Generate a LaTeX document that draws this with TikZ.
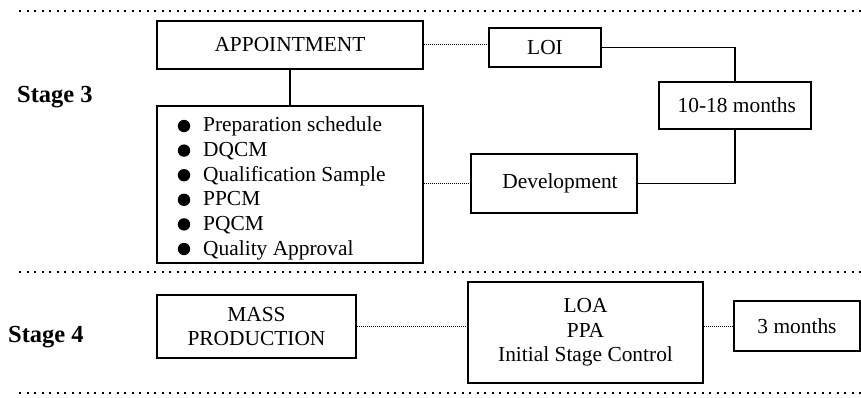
\documentclass[tikz,border=0pt]{standalone}
\usepackage{fontspec}
\setmainfont{Liberation Serif}
\begin{document}
\begin{tikzpicture}[x=1pt,y=-1pt,
  every node/.style={font=\fontsize{21.4}{24.6}\selectfont},
  box/.style={draw,line width=1.8pt,inner sep=0pt,align=center},
  item/.style={anchor=base west,inner sep=0pt},
  link/.style={line width=1.8pt},
  faint/.style={line width=1pt,dash pattern=on 1pt off 1pt},
  divider/.style={line width=2.4pt,dash pattern=on 2.4pt off 5.1pt},
  stagelabel/.style={font=\fontsize{24.5}{28}\selectfont\bfseries,anchor=base west,inner sep=0pt}]
\useasboundingbox (0,0) rectangle (861,398);

% separators between the stages
\coordinate (s1a) at (19,11);  \coordinate (s1b) at (861,11);
\coordinate (s2a) at (19,272); \coordinate (s2b) at (861,272);
\coordinate (s3a) at (19,393); \coordinate (s3b) at (861,393);
\draw[divider] (s1a) -- (s1b);
\draw[divider] (s2a) -- (s2b);
\draw[divider] (s3a) -- (s3b);

% stage labels
\node[stagelabel] (st3) at (17,103) {Stage 3};
\node[stagelabel] (st4) at (8,342) {Stage 4};

% stage 3
\node[box,minimum width=266,minimum height=48] (appt) at (290,45) {APPOINTMENT};
\node[box,minimum width=266,minimum height=157] (tasks) at (290,184.5) {};
\foreach \t [count=\i] in {Preparation schedule,DQCM,Qualification Sample,PPCM,PQCM,Quality Approval}{
  \fill (184,{126+24.6*(\i-1)}) circle (6.2);
  \node[item] (task\i) at (203,{132+24.6*(\i-1)}) {\t};
}
\node[box,minimum width=112,minimum height=39] (loi) at (545,47.5) {LOI};
\node[box,minimum width=152,minimum height=47] (months) at (735,105.5) {\,10-18 months};
\node[box,minimum width=166,minimum height=59] (dev) at (554,183.5) {\hspace{12pt}Development};

\draw[link] (appt.south) -- (tasks.north);
\draw[faint] (appt.east) -- (appt.east -| loi.west);
\draw[link] (loi.east) -| (months.north);
\draw[link] (months.south) |- (dev.east);
\draw[faint] (dev.west -| tasks.east) -- (dev.west);

% stage 4
\node[box,minimum width=199,minimum height=63] (mass) at (256.5,326.5) {MASS\\PRODUCTION};
\node[box,minimum width=235,minimum height=101] (loa) at (585.5,332.5) {LOA\\PPA\\Initial Stage Control};
\node[box,minimum width=126,minimum height=50] (three) at (797,326) {3 months};

\draw[faint] (mass.east) -- (mass.east -| loa.west);
\draw[faint] (three.west -| loa.east) -- (three.west);
\end{tikzpicture}
\end{document}
